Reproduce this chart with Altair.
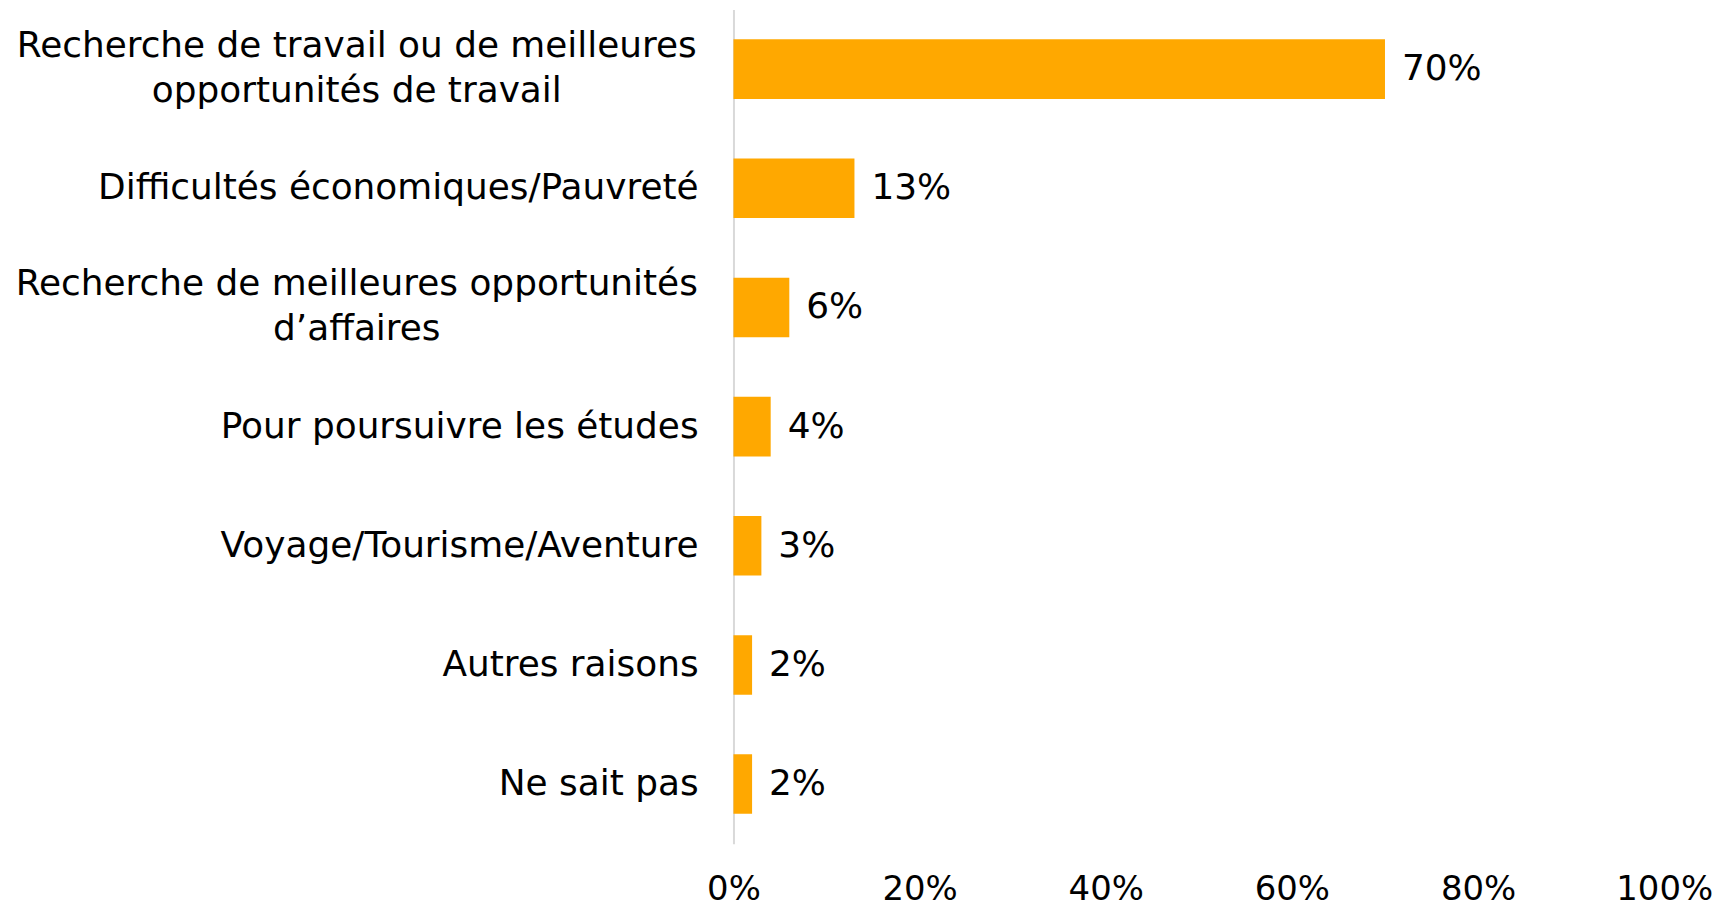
import altair as alt
import pandas as pd

categories = [
    "Recherche de travail ou de meilleures\nopportunités de travail",
    "Difficultés économiques/Pauvreté",
    "Recherche de meilleures opportunités\nd’affaires",
    "Pour poursuivre les études",
    "Voyage/Tourisme/Aventure",
    "Autres raisons",
    "Ne sait pas",
]
values = [70, 13, 6, 4, 3, 2, 2]
x_ticks = [0, 20, 40, 60, 80, 100]

FONT = "DejaVu Sans"
FS = 36
BAR = "#FFA800"

df = pd.DataFrame({"cat": categories, "val": values})
df["label"] = [f"{v}%" for v in values]
df["multi"] = ["\n" in c for c in categories]

yenc = alt.Y(
    "cat:N",
    sort=categories,
    scale=alt.Scale(paddingInner=0.5, paddingOuter=0.25),
    axis=alt.Axis(labels=False, ticks=False, title=None, domain=True,
                  domainColor="#d9d9d9", domainWidth=2, grid=False),
)
xscale = alt.Scale(domain=[0, 100], nice=False)

base = alt.Chart(df)

bars = base.mark_bar(color=BAR).encode(
    x=alt.X("val:Q", scale=xscale,
            axis=alt.Axis(values=x_ticks, labelExpr="datum.value + '%'",
                          domain=False, ticks=False, grid=False, title=None,
                          labelFont=FONT, labelFontSize=34, labelColor="#000000",
                          labelPadding=29, labelFlush=False, labelOverlap=False)),
    y=yenc,
)

vals = base.mark_text(align="left", baseline="middle", dx=17, font=FONT,
                      fontSize=FS, color="#000000").encode(
    x=alt.X("val:Q", scale=xscale),
    y=alt.Y("cat:N", sort=categories),
    text="label:N",
)

single = base.transform_filter("!datum.multi").mark_text(
    align="right", baseline="middle", font=FONT, fontSize=FS, color="#000000"
).encode(
    x=alt.value(-35),
    y=alt.Y("cat:N", sort=categories),
    text="cat:N",
)

multi = base.transform_filter("datum.multi").mark_text(
    align="center", baseline="middle", font=FONT, fontSize=FS, color="#000000",
    lineBreak="\n", lineHeight=45, dy=-23,
).encode(
    x=alt.value(-378),
    y=alt.Y("cat:N", sort=categories),
    text="cat:N",
)

chart = alt.layer(bars, vals, single, multi).properties(
    width=934,
    height=837,
    background="white",
    autosize=alt.AutoSizeParams(type="none"),
    padding={"left": 728, "top": 0, "right": 60, "bottom": 62},
).configure_view(stroke=None)

chart.save("out.html", embed_options={"renderer": "svg", "actions": False})
